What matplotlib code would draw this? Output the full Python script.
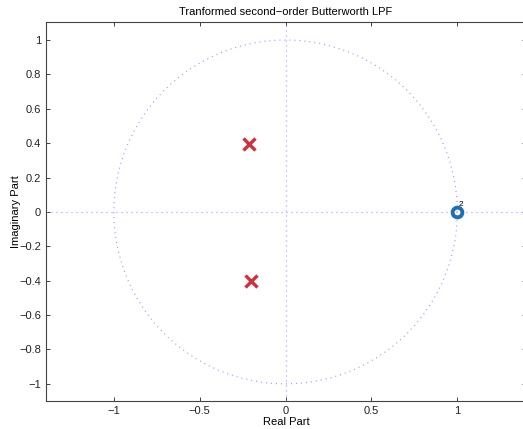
import numpy as np
import matplotlib
matplotlib.use("Agg")
import matplotlib.pyplot as plt

plt.rcParams['font.family'] = ['Liberation Sans', 'DejaVu Sans']

# pole / zero locations
pole_re = [-0.215, -0.20]
pole_im = [0.395, -0.40]
zero_re = [1.0]
zero_im = [0.0]
zero_mult = "2"

x_ticks = [-1, -0.5, 0, 0.5, 1]
y_ticks = [-1, -0.8, -0.6, -0.4, -0.2, 0, 0.2, 0.4, 0.6, 0.8, 1]

fig = plt.figure(figsize=(5.23, 4.29), dpi=100)
ax = fig.add_axes([46 / 523, 28 / 429, (526 - 46) / 523, (401 - 22) / 429])

dot = dict(color='#9999ff', lw=0.9, dashes=(0.8, 3.2))
t = np.linspace(0, 2 * np.pi, 400)
ax.plot(np.cos(t), np.sin(t), **dot)
ax.axhline(0, **dot)
ax.axvline(0, **dot)

ax.plot(pole_re, pole_im, 'x', color='#d0303c', ms=8, mew=2.4, ls='none')
ax.plot(zero_re, zero_im, 'o', mfc='none', mec='#1f6fb4', ms=7, mew=2.8, ls='none')
ax.text(zero_re[0] + 0.005, zero_im[0] + 0.02, zero_mult, fontsize=6, ha='left', va='bottom')

ax.set_xlim(-1.395, 1.4)
ax.set_ylim(-1.1, 1.105)
ax.set_xticks(x_ticks)
ax.set_xticklabels(['\u22121', '\u22120.5', '0', '0.5', '1'])
ax.set_yticks(y_ticks)
ax.set_yticklabels([('\u2212' + f"{abs(v):g}") if v < 0 else f"{v:g}" for v in y_ticks])
ax.tick_params(direction='in', length=3, width=0.6, top=True, right=True, labelsize=8, colors='#222222')
for s in ax.spines.values():
    s.set_color('#444444')
    s.set_linewidth(0.8)

ax.set_xlabel('Real Part', fontsize=8, labelpad=1)
ax.set_ylabel('Imaginary Part', fontsize=8, labelpad=-1.5)
ax.set_title('Tranformed second\u2212order Butterworth LPF', fontsize=8, pad=5)

fig.savefig('out.png', dpi=100)
